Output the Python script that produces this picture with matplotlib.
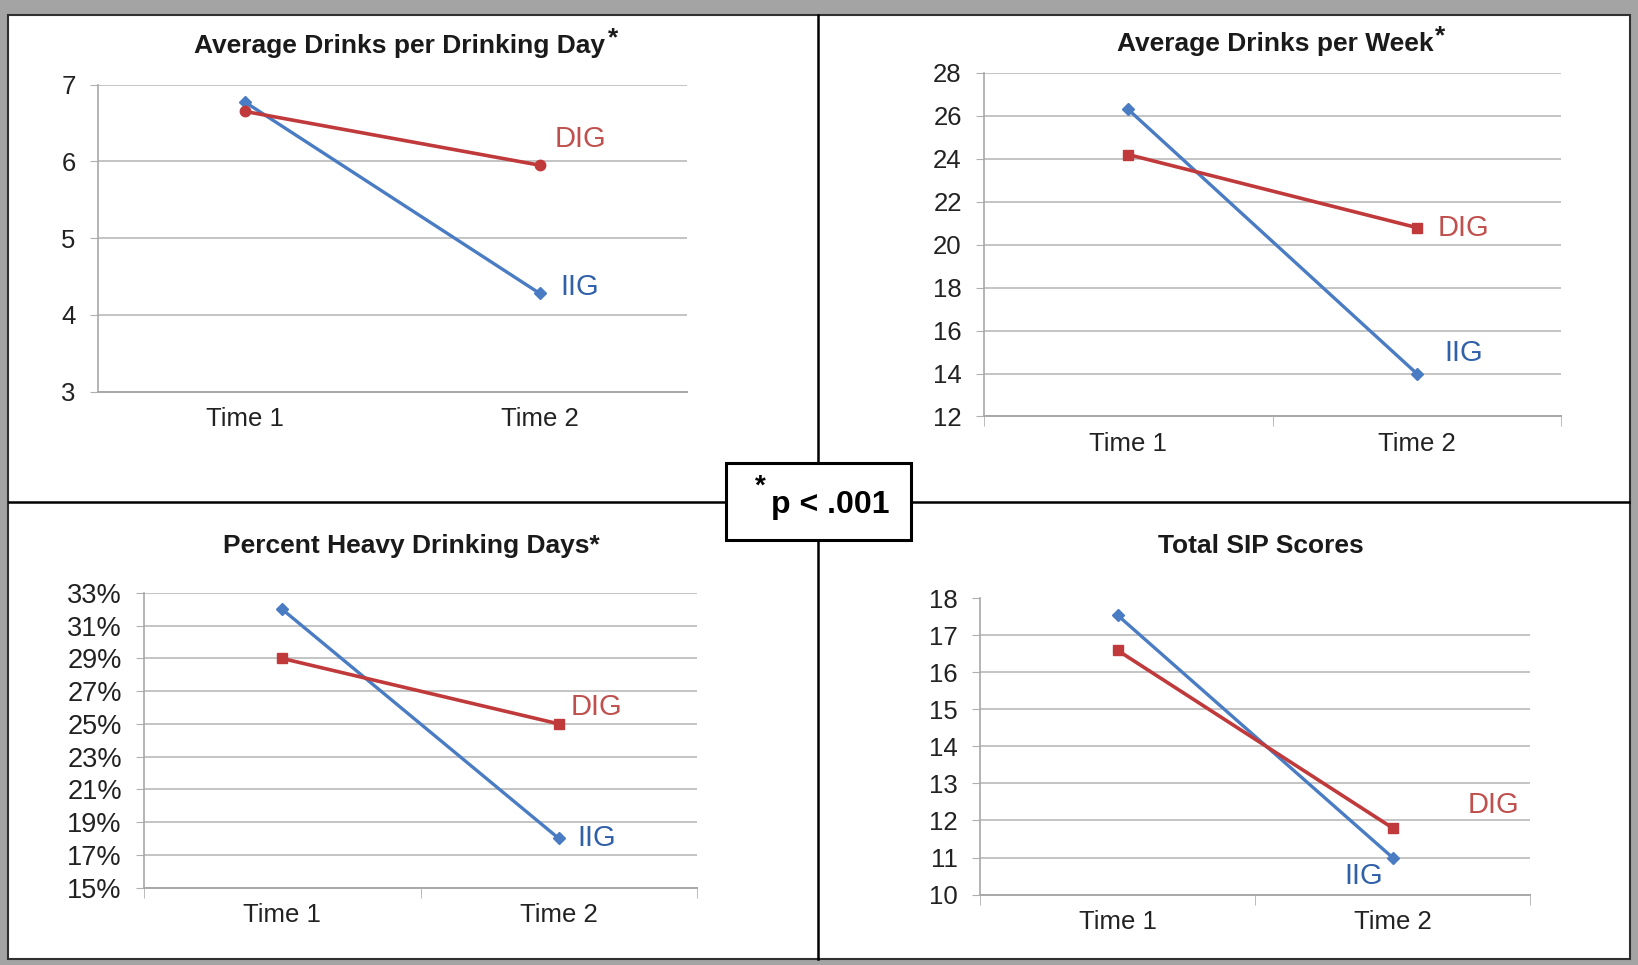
import matplotlib
matplotlib.use("Agg")
import matplotlib.pyplot as plt
from matplotlib.patches import Rectangle
from matplotlib.lines import Line2D
from matplotlib.ticker import FuncFormatter

W, H = 1638, 965

# data
times = ["Time 1", "Time 2"]

drinks_day_iig = [6.77, 4.28]
drinks_day_dig = [6.65, 5.95]

drinks_week_iig = [26.3, 14.0]
drinks_week_dig = [24.2, 20.8]

heavy_days_iig = [32, 18]
heavy_days_dig = [29, 25]

sip_iig = [17.55, 11.0]
sip_dig = [16.6, 11.8]

BLUE = "#4a7cc4"
RED = "#c0393b"
BLUE_TXT = "#3060a8"
RED_TXT = "#c0504d"
GRID = "#c4c4c4"
SANS = ["Liberation Sans", "DejaVu Sans"]


def fx(x):
    return x / W


def fy(y):
    return 1 - y / H


def make_axes(left, right, top, bottom):
    return fig.add_axes([fx(left), fy(bottom), (right - left) / W, (bottom - top) / H])


def style_axes(ax, ylim, step, fmt=None, tick_size=18.5, xticks_out=True):
    ax.set_xlim(-0.5, 1.5)
    ax.set_ylim(*ylim)
    yt = list(range(ylim[0], ylim[1] + 1, step))
    ax.set_yticks(yt)
    if fmt:
        ax.yaxis.set_major_formatter(FuncFormatter(fmt))
    ax.grid(axis="y", color=GRID, lw=1.4)
    ax.set_axisbelow(True)
    for s in ["top", "right"]:
        ax.spines[s].set_visible(False)
    ax.spines["left"].set_color("#a8a8a8")
    ax.spines["bottom"].set_color("#a8a8a8")
    ax.spines["left"].set_linewidth(1.2)
    ax.spines["bottom"].set_linewidth(1.4)
    ax.tick_params(axis="y", length=6, color="#b0b0b0", labelsize=tick_size,
                   labelcolor="#222222", pad=10)
    ax.set_xticks([0, 1])
    ax.set_xticklabels(times)
    ax.tick_params(axis="x", length=0, labelsize=18.5, labelcolor="#222222", pad=11)
    if xticks_out:
        ax.set_xticks([-0.5, 0.5, 1.5], minor=True)
        ax.tick_params(axis="x", which="minor", length=7, color="#b0b0b0")
    for lab in ax.get_xticklabels() + ax.get_yticklabels():
        lab.set_fontfamily(SANS)


def plot_pair(ax, iig, dig, dig_marker, dig_off, iig_off):
    ax.plot([0, 1], iig, color=BLUE, lw=2.4, marker="D", ms=6, zorder=3)
    ax.plot([0, 1], dig, color=RED, lw=2.6, marker=dig_marker, ms=7.5, zorder=4)
    ax.annotate("DIG", xy=(1, dig[1]), xytext=dig_off, textcoords="offset pixels",
                ha="center", va="center", fontsize=21, color=RED_TXT, family=SANS)
    ax.annotate("IIG", xy=(1, iig[1]), xytext=iig_off, textcoords="offset pixels",
                ha="center", va="center", fontsize=21, color=BLUE_TXT, family=SANS)


def title(ax, x, y, text, star=False):
    t = fig.text(fx(x), fy(y), text, ha="center", va="center", fontsize=19,
                 fontweight="bold", color="#1a1a1a", family=SANS)
    if star:
        ax.annotate("*", xy=(1, 1), xycoords=t, xytext=(2, -4), textcoords="offset pixels",
                    ha="left", va="center", fontsize=19, fontweight="bold",
                    color="#1a1a1a", family=SANS, annotation_clip=False)


fig = plt.figure(figsize=(W / 100, H / 100), dpi=100, facecolor="#a4a4a4")

# white page inside grey frame
fig.add_artist(Rectangle((fx(8), fy(959)), (1630 - 8) / W, (959 - 15) / H,
                         transform=fig.transFigure, facecolor="white",
                         edgecolor="#303030", lw=1.5, zorder=0))

# panel 1
ax1 = make_axes(98, 687, 84.6, 391.7)
style_axes(ax1, (3, 7), 1, xticks_out=False)
plot_pair(ax1, drinks_day_iig, drinks_day_dig, "o", (41, 26), (40, 6))
title(ax1, 400, 46, "Average Drinks per Drinking Day", star=True)

# panel 2
ax2 = make_axes(984, 1561, 73, 416.5)
style_axes(ax2, (12, 28), 2)
plot_pair(ax2, drinks_week_iig, drinks_week_dig, "s", (47, 0), (47, 21))
title(ax2, 1275, 44, "Average Drinks per Week", star=True)

# panel 3
ax3 = make_axes(144, 697, 593, 887.5)
style_axes(ax3, (15, 33), 2, fmt=lambda v, p: f"{v:.0f}%", tick_size=19.5)
plot_pair(ax3, heavy_days_iig, heavy_days_dig, "s", (38, 17), (38, 0))
title(ax3, 411, 546, "Percent Heavy Drinking Days*")

# panel 4
ax4 = make_axes(980, 1530, 598.5, 894.5)
style_axes(ax4, (10, 18), 1)
plot_pair(ax4, sip_iig, sip_dig, "s", (101, 23), (-29, -18))
title(ax4, 1261, 546, "Total SIP Scores")

# divider lines
fig.add_artist(Line2D([fx(818), fx(818)], [fy(15), fy(959)], transform=fig.transFigure,
                      color="black", lw=1.8, zorder=5))
fig.add_artist(Line2D([fx(9), fx(1629)], [fy(502), fy(502)], transform=fig.transFigure,
                      color="black", lw=1.8, zorder=5))

# significance box
fig.add_artist(Rectangle((fx(726), fy(540)), (911 - 726) / W, (540 - 463) / H,
                         transform=fig.transFigure, facecolor="white",
                         edgecolor="black", lw=2.2, zorder=6))
fig.text(fx(830), fy(505), "p < .001", ha="center", va="center", fontsize=23,
         fontweight="bold", family=SANS, zorder=7)
fig.text(fx(760), fy(487), "*", ha="center", va="center", fontsize=20,
         fontweight="bold", family=SANS, zorder=7)

fig.savefig("out.png", dpi=100, facecolor=fig.get_facecolor())
